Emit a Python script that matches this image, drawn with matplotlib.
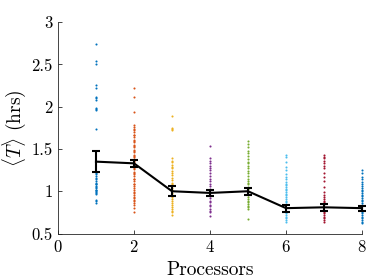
import matplotlib
matplotlib.use("Agg")
import matplotlib.pyplot as plt

plt.rcParams['font.family'] = 'serif'
plt.rcParams['font.serif'] = ['cmr10', 'DejaVu Serif']
plt.rcParams['mathtext.fontset'] = 'cm'
plt.rcParams['axes.formatter.use_mathtext'] = True

PROCESSORS = [1, 2, 3, 4, 5, 6, 7, 8]
COLORS = ['#0072BD', '#D95319', '#EDB120', '#7E2F8E', '#77AC30', '#4DBEEE', '#A2142F', '#0072BD']

# individual run times (hrs) per processor count
runs_1 = [2.74, 2.54, 2.50, 2.26, 2.22, 2.12, 2.10, 2.08, 1.99, 1.97, 1.96, 1.74, 1.22, 1.20, 1.18,
          1.16, 1.14, 1.12, 1.10, 1.09, 1.08, 1.06, 1.05, 1.04, 1.02, 1.01, 1.00, 0.99, 0.98, 0.97,
          0.90, 0.88, 0.86]
runs_2 = [2.22, 2.12, 1.94, 1.78, 1.76, 1.74, 1.72, 1.70, 1.67, 1.66, 1.64, 1.61, 1.60, 1.58, 1.55,
          1.54, 1.52, 1.49, 1.48, 1.46, 1.43, 1.42, 1.40, 1.38, 1.36, 1.34, 1.31, 1.30, 1.28, 1.26,
          1.23, 1.22, 1.20, 1.18, 1.15, 1.14, 1.12, 1.09, 1.08, 1.06, 1.04, 1.02, 0.99, 0.98, 0.96,
          0.93, 0.92, 0.90, 0.88, 0.86, 0.84, 0.80, 0.76]
runs_3 = [1.89, 1.75, 1.74, 1.72, 1.39, 1.36, 1.34, 1.31, 1.29, 1.27, 1.24, 1.22, 1.19, 1.16, 1.13,
          1.10, 1.08, 1.06, 1.04, 1.02, 0.98, 0.96, 0.93, 0.91, 0.88, 0.86, 0.84, 0.81, 0.79, 0.77,
          0.75, 0.72]
runs_4 = [1.53, 1.39, 1.36, 1.33, 1.30, 1.27, 1.25, 1.21, 1.18, 1.15, 1.12, 1.09, 1.06, 1.03, 1.01,
          0.96, 0.94, 0.92, 0.89, 0.87, 0.84, 0.82, 0.79, 0.77, 0.75, 0.71]
runs_5 = [1.60, 1.56, 1.52, 1.48, 1.45, 1.42, 1.38, 1.35, 1.33, 1.30, 1.27, 1.24, 1.21, 1.18, 1.15,
          1.12, 1.10, 1.08, 1.05, 1.03, 0.97, 0.95, 0.93, 0.91, 0.89, 0.87, 0.85, 0.83, 0.81, 0.79,
          0.67]
runs_6 = [1.43, 1.41, 1.35, 1.29, 1.25, 1.20, 1.17, 1.14, 1.11, 1.09, 1.07, 1.05, 1.03, 1.01, 0.99,
          0.97, 0.95, 0.93, 0.91, 0.89, 0.87, 0.85, 0.76, 0.74, 0.72, 0.70, 0.68, 0.66, 0.64]
runs_7 = [1.43, 1.41, 1.39, 1.36, 1.33, 1.30, 1.27, 1.22, 1.17, 1.12, 1.05, 0.99, 0.96, 0.93, 0.91,
          0.89, 0.87, 0.85, 0.76, 0.74, 0.72, 0.70, 0.68, 0.66, 0.64]
runs_8 = [1.25, 1.21, 1.17, 1.14, 1.11, 1.08, 1.06, 1.04, 1.02, 1.00, 0.98, 0.96, 0.94, 0.92, 0.90,
          0.88, 0.86, 0.84, 0.76, 0.74, 0.72, 0.70, 0.68, 0.66, 0.64, 0.62]
ALL_RUNS = [runs_1, runs_2, runs_3, runs_4, runs_5, runs_6, runs_7, runs_8]

MEAN_T = [1.35, 1.33, 1.00, 0.98, 1.00, 0.80, 0.81, 0.80]
ERR_T = [0.12, 0.04, 0.06, 0.04, 0.04, 0.04, 0.04, 0.03]

fig = plt.figure(figsize=(3.74, 2.8), dpi=100)
ax = fig.add_axes([0.155, 0.166, 0.813, 0.755])

for p, runs, c in zip(PROCESSORS, ALL_RUNS, COLORS):
    ax.plot([p] * len(runs), runs, 'o', color=c, markersize=1.5, markeredgewidth=0,
            zorder=2, clip_on=False)

ax.errorbar(PROCESSORS, MEAN_T, yerr=ERR_T, color='k', linewidth=1.5,
            elinewidth=1.5, capsize=3, capthick=1.5, zorder=3, clip_on=False)

ax.set_xlim(0, 8)
ax.set_ylim(0.5, 3)
ax.set_xticks([0, 2, 4, 6, 8])
ax.set_yticks([0.5, 1, 1.5, 2, 2.5, 3])
ax.set_yticklabels(['0.5', '1', '1.5', '2', '2.5', '3'])
ax.spines['top'].set_visible(False)
ax.spines['right'].set_visible(False)
for s in ['left', 'bottom']:
    ax.spines[s].set_color('#262626')
    ax.spines[s].set_linewidth(0.6)
ax.tick_params(direction='in', length=3, width=0.6, color='#262626', labelsize=12, pad=4)
ax.set_xlabel('Processors', fontsize=14, labelpad=4)
ax.set_ylabel(r'$\langle T\rangle$ (hrs)', fontsize=14, labelpad=2)

fig.savefig('out.png', dpi=100)
